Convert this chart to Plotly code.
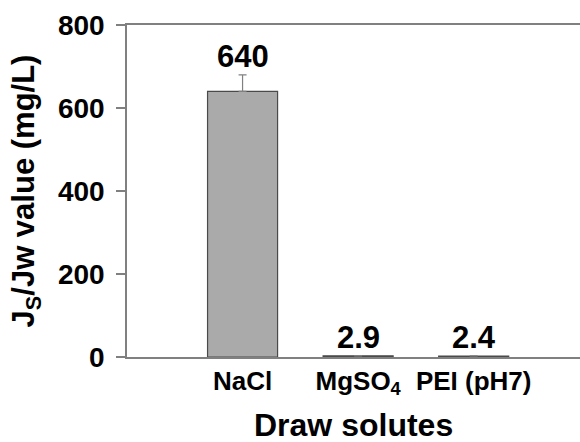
import plotly.graph_objects as go

categories = ["NaCl", "MgSO<sub>4</sub>", "PEI (pH7)"]
values = [640, 2.9, 2.4]
errors = [40, 0.5, 0.5]
labels = ["640", "2.9", "2.4"]
y_ticks = [0, 200, 400, 600, 800]

FONT = "Liberation Sans, Arial, sans-serif"

fig = go.Figure()
fig.add_trace(go.Bar(
    x=categories, y=values,
    width=0.606,
    marker=dict(color="#aaaaaa", line=dict(color="#4a4a4a", width=1.2)),
    error_y=dict(type="data", array=errors, arrayminus=[0, 0, 0], symmetric=False,
                 color="#808080", thickness=1.2, width=4),
    showlegend=False,
))

for c, v, e, t in zip(categories, values, errors, labels):
    fig.add_annotation(x=c, y=v + e, text="<b>%s</b>" % t, showarrow=False,
                       yanchor="bottom", yshift=-1,
                       font=dict(family=FONT, size=31, color="black"))

# x-axis title as an annotation so it can sit close to the page bottom
fig.add_annotation(x=0.5, y=0, xref="paper", yref="paper", text="<b>Draw solutes</b>",
                   showarrow=False, yanchor="top", yshift=-48,
                   font=dict(family=FONT, size=32, color="black"))

fig.update_layout(
    width=580, height=442,
    margin=dict(l=127, r=0, t=25, b=85),
    paper_bgcolor="white", plot_bgcolor="white",
    font=dict(family=FONT, color="black"),
    xaxis=dict(
        range=[-1.0, 2.92], showline=True, linecolor="#808080", linewidth=1.5,
        mirror=True, ticks="", showgrid=False,
        tickfont=dict(family=FONT, size=26, color="black"),
        tickvals=categories, ticktext=["<b>%s</b>" % c for c in categories],
    ),
    yaxis=dict(
        range=[0, 800], tickvals=y_ticks, ticktext=["<b>%d</b>" % v for v in y_ticks],
        showline=True, linecolor="#808080", linewidth=1.5, mirror=False,
        ticks="outside", ticklen=9, tickcolor="#808080", tickwidth=1.5,
        ticklabelstandoff=6,
        showgrid=False, zeroline=False,
        tickfont=dict(family=FONT, size=28, color="black"),
        title=dict(text="<b>J<sub>S</sub>/Jw value (mg/L)</b>",
                   font=dict(family=FONT, size=31, color="black"), standoff=14),
    ),
)

fig.write_html("out.html", config={"displayModeBar": False},
               post_script="document.body.style.margin='0';")
